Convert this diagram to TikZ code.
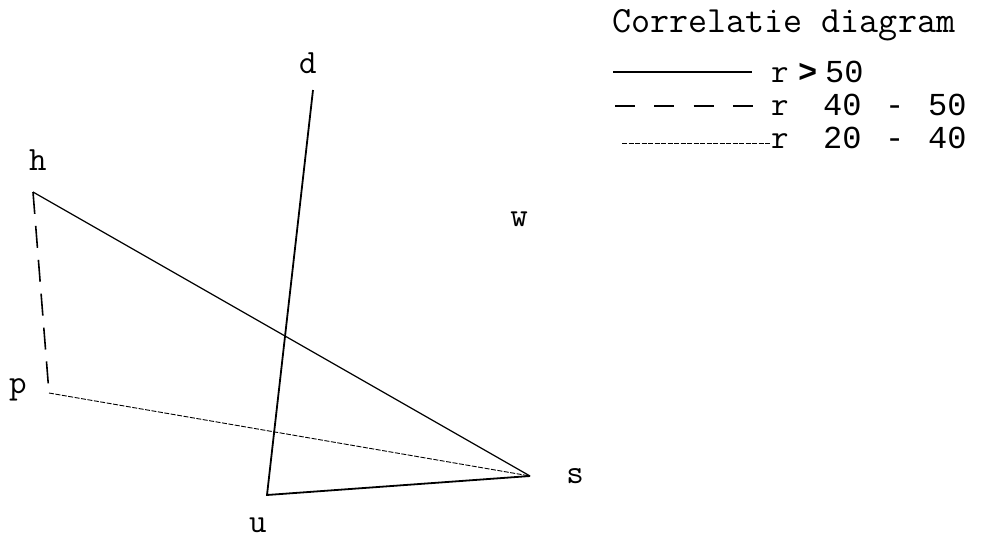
\documentclass[tikz,border=0pt]{standalone}
\usepackage{fontspec}
\newfontfamily\digitfont{Liberation Mono}
\begin{document}
\begin{tikzpicture}[x=1pt,y=-1pt,
  lbl/.style={font=\fontsize{34}{34}\selectfont\ttfamily, inner sep=0pt},
  leg/.style={font=\fontsize{32}{32}\selectfont\digitfont, inner sep=0pt, anchor=base west},
  legr/.style={font=\fontsize{34}{34}\selectfont\ttfamily, inner sep=0pt, anchor=base west},
  strongline/.style={line width=1.8pt},
  midline/.style={line width=1.6pt, dash pattern=on 22pt off 12pt},
  legdash/.style={line width=1.6pt, dash pattern=on 20pt off 19.3pt},
  hsline/.style={line width=1.2pt},
  weakline/.style={line width=0.9pt, dash pattern=on 5pt off 1.5pt}]
\useasboundingbox (0,0) rectangle (987,541);
% corners
\coordinate (H) at (33,192);
\coordinate (P) at (49,393);
\coordinate (D) at (313,90);
\coordinate (U) at (267,495);
\coordinate (S) at (530,476);
% labels
\node[lbl] (hl) at (38,160) {h};
\node[lbl] (dl) at (308,63) {d};
\node[lbl] (pl) at (18,390) {p};
\node[lbl] (ul) at (258,525) {u};
\node[lbl] (sl) at (575,476) {s};
\node[lbl] (wl) at (519,219) {w};
% connectors
\draw[strongline] (D) -- (U) -- (S);
\draw[midline] (H) -- (P);
\draw[hsline] (H) -- (S);
\draw[weakline] (P) -- (S);
% legend
\node[font=\fontsize{37}{37}\selectfont\ttfamily, inner sep=0pt, anchor=base west] (title) at (612,32) {Correlatie diagram};
\coordinate (a1) at (613,72); \coordinate (b1) at (752,72);
\coordinate (a2) at (615,106); \coordinate (b2) at (753,106);
\coordinate (a3) at (622,143); \coordinate (b3) at (770,143);
\draw[hsline] (a1) -- (b1);
\draw[legdash] (a2) -- (b2);
\draw[weakline] (a3) -- (b3);
\node[legr] (r1) at (771,82) {r};
\node[leg] (g1) at (798,82) {\textbf{>}};
\node[leg] (n1) at (825,82) {50};
\node[legr] (r2) at (771,115) {r};
\node[leg] (n2a) at (823,115) {40};
\node[leg] (m2) at (885,115) {-};
\node[leg] (n2b) at (928,115) {50};
\node[legr] (r3) at (771,148) {r};
\node[leg] (n3a) at (823,148) {20};
\node[leg] (m3) at (885,148) {-};
\node[leg] (n3b) at (928,148) {40};
\end{tikzpicture}
\end{document}
